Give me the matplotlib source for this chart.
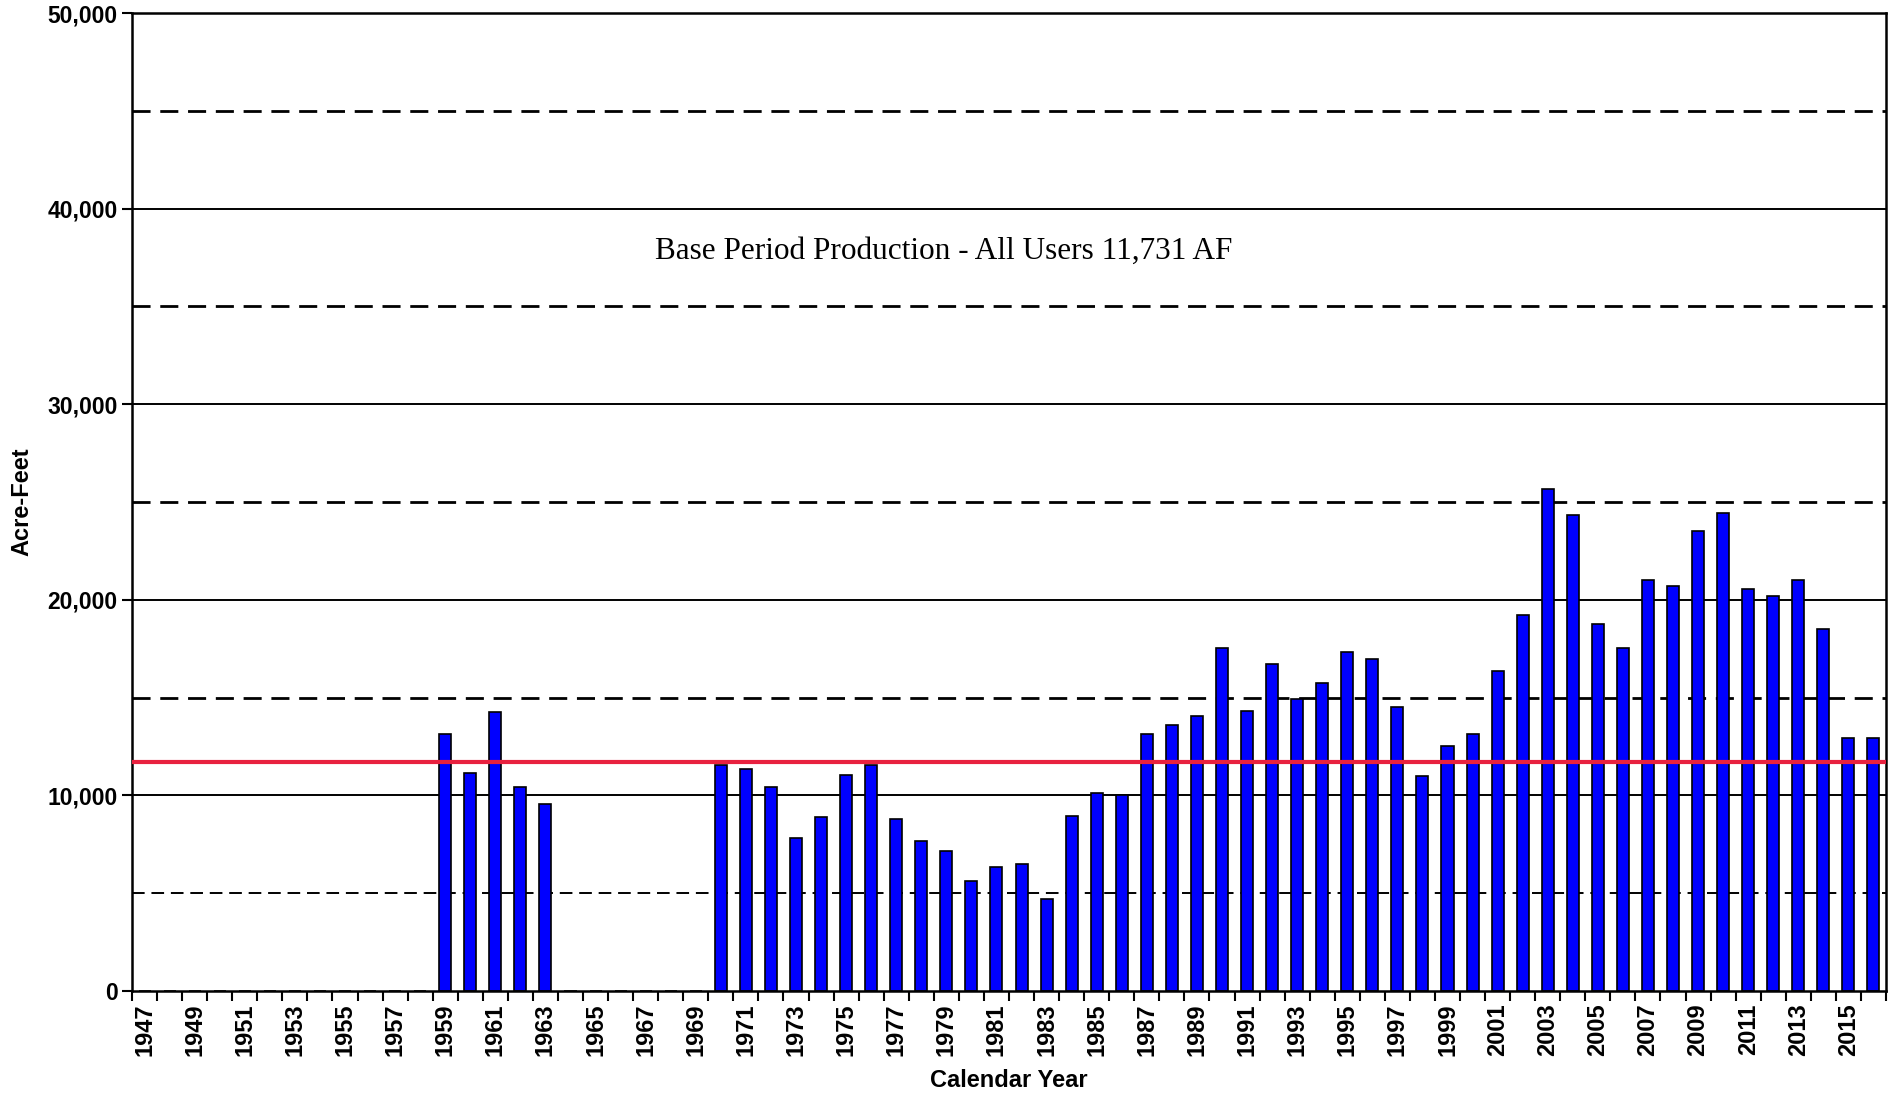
import numpy as np
import matplotlib.pyplot as plt
from matplotlib.ticker import FixedLocator, FuncFormatter

# calendar years shown on the axis
years = list(range(1947, 2017))

# annual production (acre-feet); 0 = no record
production = {
    1959: 13150, 1960: 11170, 1961: 14260, 1962: 10430, 1963: 9570,
    1970: 11540, 1971: 11360, 1972: 10430, 1973: 7840, 1974: 8890,
    1975: 11050, 1976: 11540, 1977: 8770, 1978: 7650, 1979: 7160,
    1980: 5620, 1981: 6360, 1982: 6480, 1983: 4690, 1984: 8950,
    1985: 10120, 1986: 10000, 1987: 13150, 1988: 13580, 1989: 14070,
    1990: 17530, 1991: 14320, 1992: 16730, 1993: 14940, 1994: 15740,
    1995: 17350, 1996: 16980, 1997: 14500, 1998: 10990, 1999: 12530,
    2000: 13150, 2001: 16360, 2002: 19200, 2003: 25680, 2004: 24320,
    2005: 18770, 2006: 17530, 2007: 20990, 2008: 20680, 2009: 23520,
    2010: 24440, 2011: 20560, 2012: 20190, 2013: 20990, 2014: 18520,
    2015: 12960, 2016: 12960,
}
values = [production.get(y, 0) for y in years]

base_period = 11731
base_label = "Base Period Production - All Users 11,731 AF"

fig = plt.figure(figsize=(18.98, 10.95), dpi=100)
ax = fig.add_axes([132/1898, 1 - 991/1095, (1886-132)/1898, (991-13)/1095])

x = np.arange(len(years))

# horizontal reference lines
for yv in range(10000, 50000, 10000):
    ax.axhline(yv, color='black', lw=1.4, zorder=1)
for yv in range(5000, 50000, 10000):
    ax.axhline(yv, color='black', lw=1.4 if yv == 5000 else 2.0,
               ls=(0, (6.5, 3.5)), zorder=1)

ax.bar(x, values, width=0.48, color='#0000FF', edgecolor='black',
       linewidth=1.2, zorder=2)

ax.axhline(base_period, color='#E8213F', lw=3.0, zorder=3)

ax.text(31.9, 37800, base_label, ha='center', va='center',
        fontsize=22.5, family='Liberation Serif')

ax.set_xlim(-0.5, len(years) - 0.5)
ax.set_ylim(0, 50000)

# tick marks between the categories, labels every other year
ax.xaxis.set_major_locator(FixedLocator(np.arange(-0.5, len(years), 1.0)))
ax.xaxis.set_major_formatter(FuncFormatter(lambda v, p: ''))
ax.xaxis.set_minor_locator(FixedLocator(x[::2]))
ax.set_xticklabels([str(y) for y in years[::2]], minor=True, rotation=90,
                   fontsize=17, fontweight='bold', family='Liberation Sans')
ax.tick_params(axis='x', which='major', direction='out', length=7, width=1.5)
ax.tick_params(axis='x', which='minor', length=0, pad=9)

ax.set_yticks(range(0, 50001, 10000))
ax.yaxis.set_major_formatter(FuncFormatter(lambda v, p: f"{int(v):,}"))
ax.tick_params(axis='y', direction='out', length=7, width=1.5)
for lab in ax.get_yticklabels():
    lab.set_fontsize(16.5)
    lab.set_fontweight('bold')
    lab.set_family('Liberation Sans')

for s in ax.spines.values():
    s.set_color('black')
    s.set_linewidth(1.8)

ax.set_xlabel('Calendar Year', fontsize=17, fontweight='bold',
              family='Liberation Sans', labelpad=9)
ax.set_ylabel('Acre-Feet', fontsize=17, fontweight='bold',
              family='Liberation Sans', labelpad=10)

fig.savefig('out.png', dpi=100)
